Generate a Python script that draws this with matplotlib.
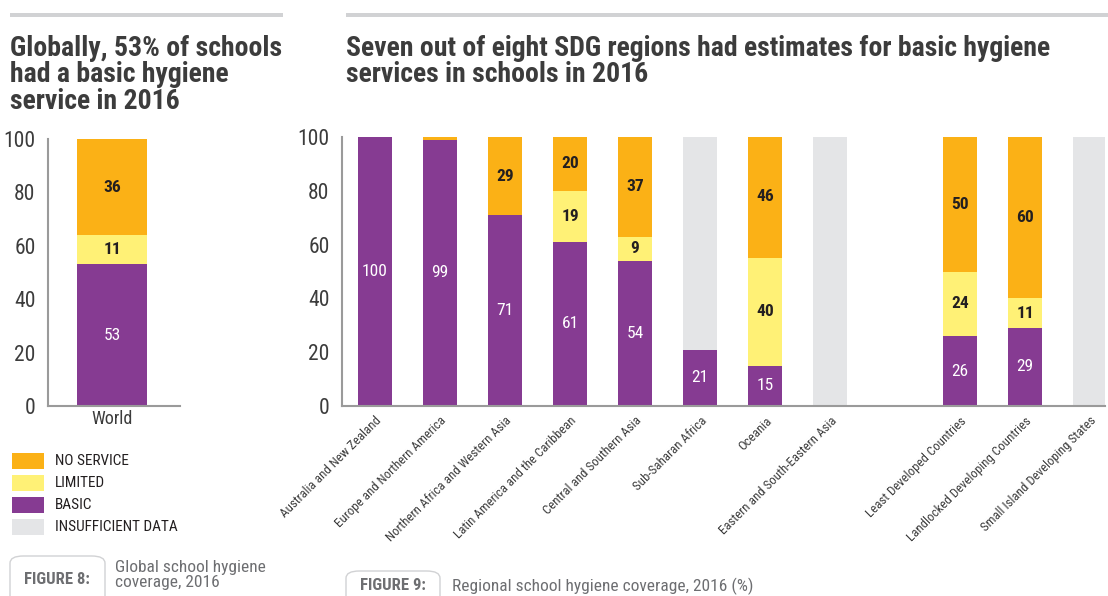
import matplotlib
matplotlib.use("Agg")
import matplotlib.pyplot as plt
from matplotlib import font_manager
from matplotlib.patches import FancyBboxPatch, Rectangle
import numpy as np

# ---------------- data ----------------
world_cat = ["World"]
world_basic = [53]
world_limited = [11]
world_noservice = [36]

regions = ["Australia and New Zealand", "Europe and Northern America",
           "Northern Africa and Western Asia", "Latin America and the Caribbean",
           "Central and Southern Asia", "Sub-Saharan Africa", "Oceania",
           "Eastern and South-Eastern Asia",
           "Least Developed Countries", "Landlocked Developing Countries",
           "Small Island Developing States"]
region_group = [0, 0, 0, 0, 0, 0, 0, 0, 1, 1, 1]
reg_basic = [100, 99, 71, 61, 54, 21, 15, 0, 26, 29, 0]
reg_limited = [0, 0, 0, 19, 9, 0, 40, 0, 24, 11, 0]
reg_noservice = [0, 1, 29, 20, 37, 0, 46, 0, 50, 60, 0]
reg_insufficient = [0, 0, 0, 0, 0, 79, 0, 100, 0, 0, 100]

legend_labels = ["NO SERVICE", "LIMITED", "BASIC", "INSUFFICIENT DATA"]
yticks = [0, 20, 40, 60, 80, 100]

# ---------------- style ----------------
names = {f.name for f in font_manager.fontManager.ttflist}
FONT = "DejaVu Sans"
for cand in ["Roboto Condensed", "Barlow Condensed", "Archivo Narrow",
             "PT Sans Narrow", "Pragati Narrow"]:
    if cand in names:
        FONT = cand
        break
plt.rcParams["font.family"] = [FONT, "DejaVu Sans"]

C_PURPLE = "#863b92"
C_YELLOW = "#fff176"
C_ORANGE = "#fbb116"
C_GRAY = "#e4e5e7"
C_TEXT = "#3c3c3c"
C_DARK = "#231f20"
C_AXIS = "#9a9a9a"
C_CAP = "#6d6e71"

W, H = 1108, 596
fig = plt.figure(figsize=(W / 100, H / 100), dpi=100)


def fx(px):
    return px / W


def fy(py):
    return 1 - py / H


def style_ax(ax):
    for s in ["top", "right"]:
        ax.spines[s].set_visible(False)
    for s in ["left", "bottom"]:
        ax.spines[s].set_color(C_AXIS)
        ax.spines[s].set_linewidth(1.5)
    ax.tick_params(axis="both", length=0, colors=C_TEXT)
    ax.set_ylim(0, 100)
    ax.set_yticks(yticks)
    ax.set_yticklabels([str(t) for t in yticks], fontsize=15.5, color=C_TEXT)
    ax.tick_params(axis="y", pad=9)


def label_seg(ax, x, bottom, val, color, bold):
    if val >= 5:
        ax.text(x, bottom + val / 2, str(val), ha="center", va="center",
                fontsize=12.5, color=color,
                fontweight="bold" if bold else "normal")


# ---------------- left panel ----------------
ax1 = fig.add_axes([fx(48), fy(406), fx(180 - 48), (406 - 139) / H])
style_ax(ax1)
x1 = np.arange(len(world_cat))
bw = 1.0
b = np.zeros(len(world_cat))
for vals, col, tcol, bold in [(world_basic, C_PURPLE, "white", False),
                              (world_limited, C_YELLOW, C_DARK, True),
                              (world_noservice, C_ORANGE, C_DARK, True)]:
    ax1.bar(x1, vals, bottom=b, width=bw, color=col, linewidth=0)
    for xi, bi, v in zip(x1, b, vals):
        label_seg(ax1, xi, bi, v, tcol, bold)
    b = b + np.array(vals)
ax1.set_xlim(-0.915, 0.971)
ax1.set_xticks(x1)
ax1.set_xticklabels(world_cat, fontsize=13, color=C_TEXT)
ax1.tick_params(axis="x", pad=3)

# ---------------- right panel ----------------
ax2 = fig.add_axes([fx(342), fy(406), fx(1105 - 342), (406 - 137) / H])
style_ax(ax2)
xpos = np.arange(len(regions)) + np.array(region_group)
bw2 = 0.52
b = np.zeros(len(regions))
for vals, col, tcol, bold in [(reg_basic, C_PURPLE, "white", False),
                              (reg_limited, C_YELLOW, C_DARK, True),
                              (reg_noservice, C_ORANGE, C_DARK, True),
                              (reg_insufficient, C_GRAY, C_DARK, True)]:
    ax2.bar(xpos, vals, bottom=b, width=bw2, color=col, linewidth=0)
    if col != C_GRAY:
        for xi, bi, v in zip(xpos, b, vals):
            label_seg(ax2, xi, bi, v, tcol, bold)
    b = b + np.array(vals)
ax2.set_xlim(-0.508, 11.23)
ax2.set_xticks(xpos)
ax2.set_xticklabels(regions, rotation=45, ha="right", va="top",
                    rotation_mode="anchor", fontsize=9.3, color=C_TEXT)
ax2.tick_params(axis="x", pad=6)

# ---------------- decorations ----------------
fig.add_artist(Rectangle((fx(10), fy(17)), fx(283 - 10), 4 / H,
                         color="#d1d2d4", lw=0, transform=fig.transFigure))
fig.add_artist(Rectangle((fx(346), fy(17)), fx(1108 - 346), 4 / H,
                         color="#d1d2d4", lw=0, transform=fig.transFigure))

fig.text(fx(10), fy(35), "Globally, 53% of schools\nhad a basic hygiene\nservice in 2016",
         ha="left", va="top", fontsize=20, fontweight="bold", color=C_TEXT,
         linespacing=0.97)
fig.text(fx(346), fy(35),
         "Seven out of eight SDG regions had estimates for basic hygiene\nservices in schools in 2016",
         ha="left", va="top", fontsize=20, fontweight="bold", color=C_TEXT,
         linespacing=0.97)

# legend
leg_cols = [C_ORANGE, C_YELLOW, C_PURPLE, C_GRAY]
for i, (lab, col) in enumerate(zip(legend_labels, leg_cols)):
    yc = 461 + 22 * i
    fig.add_artist(Rectangle((fx(12), fy(yc + 8)), fx(32), 16 / H,
                             color=col, lw=0, transform=fig.transFigure))
    fig.text(fx(55), fy(yc), lab, ha="left", va="center", fontsize=11,
             color=C_DARK)

# figure captions
fig.add_artist(FancyBboxPatch((fx(10), fy(604)), fx(95), 48 / H,
                              boxstyle="round,pad=0,rounding_size=0.012",
                              fc="white", ec="#d1d2d4", lw=1,
                              transform=fig.transFigure))
fig.text(fx(57), fy(579), "FIGURE 8:", ha="center", va="center", fontsize=12,
         fontweight="bold", color=C_CAP)
fig.text(fx(115), fy(575), "Global school hygiene\ncoverage, 2016", ha="left",
         va="center", fontsize=12.5, color=C_CAP, linespacing=0.95)

fig.add_artist(FancyBboxPatch((fx(346), fy(604)), fx(94), 33 / H,
                              boxstyle="round,pad=0,rounding_size=0.012",
                              fc="white", ec="#d1d2d4", lw=1,
                              transform=fig.transFigure))
fig.text(fx(393), fy(586), "FIGURE 9:", ha="center", va="center", fontsize=12,
         fontweight="bold", color=C_CAP)
fig.text(fx(452), fy(586), "Regional school hygiene coverage, 2016 (%)",
         ha="left", va="center", fontsize=12.5, color=C_CAP)

fig.savefig("out.png", dpi=100)
